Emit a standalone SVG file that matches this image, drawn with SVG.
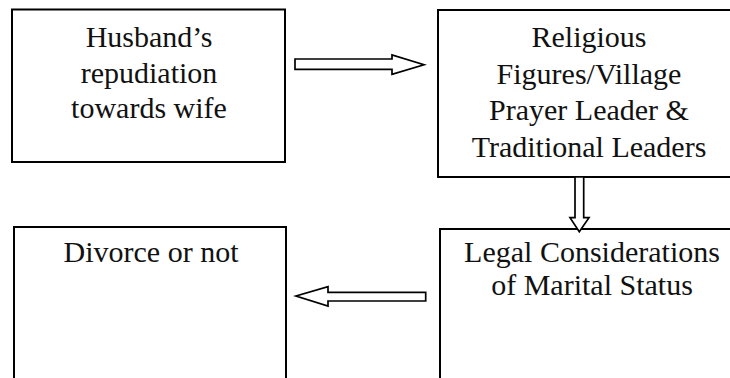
<svg xmlns="http://www.w3.org/2000/svg" width="730" height="378" viewBox="0 0 730 378">
<style>
.box{fill:#fff;stroke:#000;stroke-width:2}
.arr{fill:#fff;stroke:#000;stroke-width:1.7;stroke-linejoin:miter}
text{font-family:"Liberation Serif","Times New Roman",serif;font-size:30px;fill:#111;text-anchor:middle}
</style>
<rect width="730" height="378" fill="#fff"/>
<g id="node-husband">
<rect class="box" x="12" y="9.5" width="273" height="152.5"/>
<text x="149" y="47">Husband’s</text>
<text x="149" y="82.5">repudiation</text>
<text x="149" y="118">towards wife</text>
</g>
<g id="node-religious">
<rect class="box" x="438" y="10" width="300" height="167"/>
<text x="589" y="47">Religious</text>
<text x="589" y="83.5">Figures/Village</text>
<text x="589" y="120">Prayer Leader &amp;</text>
<text x="589" y="157">Traditional Leaders</text>
</g>
<g id="node-legal">
<rect class="box" x="440" y="229" width="300" height="160"/>
<text x="592" y="262">Legal Considerations</text>
<text x="592" y="295">of Marital Status</text>
</g>
<g id="node-divorce">
<rect class="box" x="14" y="227" width="272" height="160"/>
<text x="151" y="262">Divorce or not</text>
</g>
<g id="connectors">
<polygon class="arr" points="295,59 392,59 392,55 424,64.7 392,74.3 392,69.3 295,69.3"/>
<polygon class="arr" points="575,177 583.7,177 583.7,217.7 589,217.7 579.3,231.7 570,217.7 575,217.7"/>
<polygon class="arr" points="425.7,292.3 328,292.3 328,286.7 296,296 328,306 328,301 425.7,301"/>
</g>
</svg>
